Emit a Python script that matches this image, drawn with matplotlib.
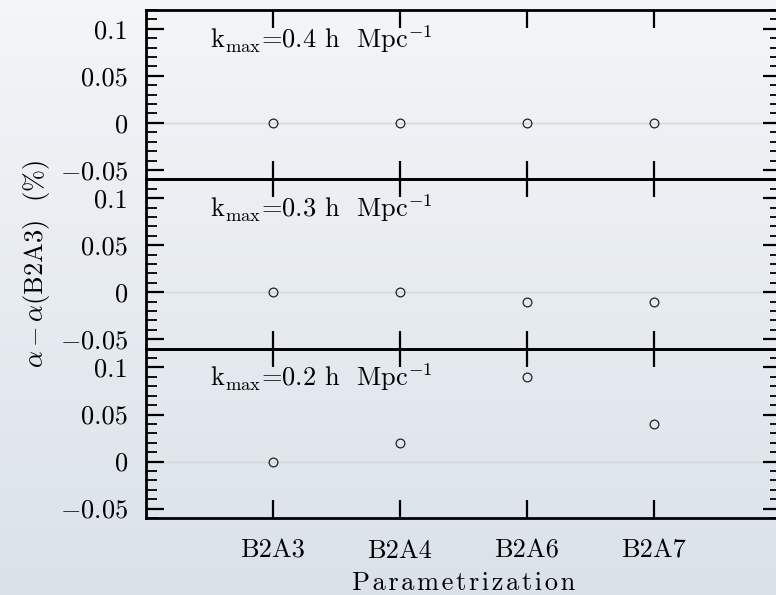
import matplotlib
matplotlib.use("Agg")
import matplotlib.pyplot as plt
import numpy as np

plt.rcParams.update({
    "font.family": ["cmr10", "DejaVu Serif"],
    "mathtext.fontset": "cm",
    "axes.formatter.use_mathtext": True,
    "font.size": 19,
})

PARAMS = ["B2A3", "B2A4", "B2A6", "B2A7"]
KMAX = ["0.4", "0.3", "0.2"]
DELTA_K04 = [0.0, 0.0, 0.0, 0.0]
DELTA_K03 = [0.0, 0.0, -0.01, -0.01]
DELTA_K02 = [0.0, 0.02, 0.09, 0.04]
SERIES = [DELTA_K04, DELTA_K03, DELTA_K02]

fig = plt.figure(figsize=(7.76, 5.95), dpi=100)

# background gradient, lighter at top
bg = fig.add_axes([0, 0, 1, 1], zorder=-10)
grad = np.linspace(0, 1, 256)[:, None]
top = np.array([0.955, 0.962, 0.970])
bot = np.array([0.855, 0.885, 0.915])
img = top[None, None, :] * (1 - grad[..., None]) + bot[None, None, :] * grad[..., None]
bg.imshow(img, aspect="auto", extent=[0, 1, 0, 1])
bg.set_axis_off()

left, right = 146 / 776, 781 / 776
y_top, y_bot = 1 - 10 / 595, 1 - 518 / 595
h = (y_top - y_bot) / 3
xs = np.arange(1, len(PARAMS) + 1)

axes = []
for i, (vals, k) in enumerate(zip(SERIES, KMAX)):
    ax = fig.add_axes([left, y_top - (i + 1) * h, right - left, h])
    ax.patch.set_alpha(0)
    ax.axhline(0, color="#d4d6d8", lw=1.0, zorder=1)
    ax.plot(xs, vals, "o", ms=6.3, mfc="none", mec="#222222", mew=0.9, zorder=3)
    ax.set_xlim(0, 5)
    ax.set_ylim(-0.06, 0.12)
    ax.set_yticks([-0.05, 0, 0.05, 0.1])
    ax.set_yticklabels([r"$-$0.05", "0", "0.05", "0.1"])
    ax.set_yticks(np.arange(-0.06, 0.121, 0.01), minor=True)
    ax.set_xticks(xs)
    if i == 2:
        ax.set_xticklabels(PARAMS)
    else:
        ax.set_xticklabels([])
    ax.tick_params(axis="both", which="major", direction="in", length=13,
                   width=1.6, top=True, right=True, color="black")
    ax.tick_params(axis="y", which="minor", direction="in", length=8,
                   width=1.3, right=True)
    ax.tick_params(axis="y", which="major", pad=13, labelsize=19)
    ax.tick_params(axis="x", which="major", pad=15, labelsize=19)
    for s in ax.spines.values():
        s.set_linewidth(2.0)
    ax.text(0.5, 0.08, r"k$_{\rm max}$=" + k + r" h  Mpc$^{-1}$",
            fontsize=19, va="baseline", ha="left")
    axes.append(ax)

axes[1].set_ylabel(r"$\alpha-\alpha$(B2A3)  (%)", fontsize=19, labelpad=6)
axes[2].set_xlabel("\u200a".join("Parametrization"), fontsize=19, labelpad=6)

fig.savefig("out.png", dpi=100)
